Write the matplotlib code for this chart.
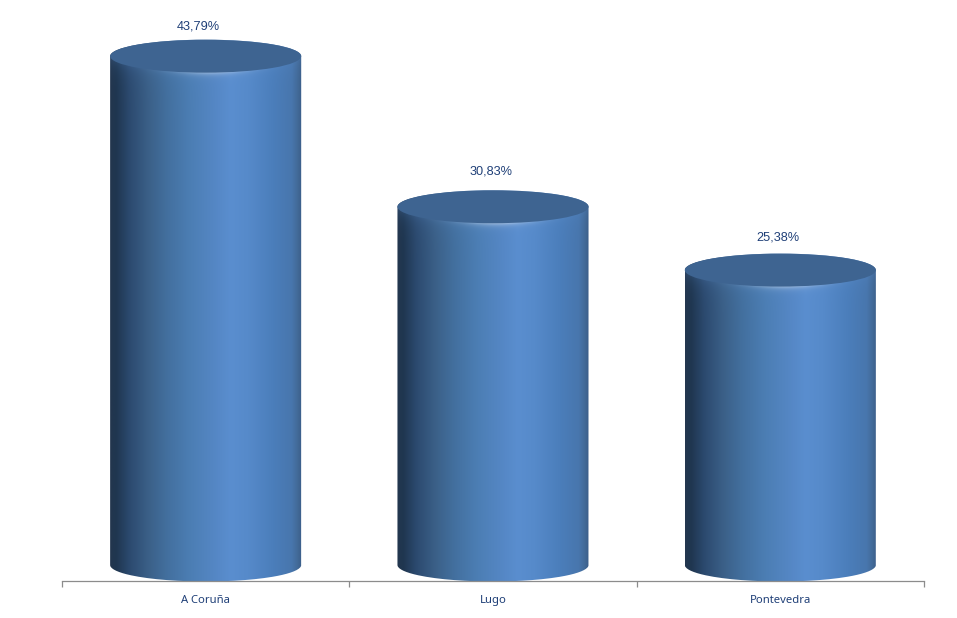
import numpy as np
import matplotlib
matplotlib.use("Agg")
import matplotlib.pyplot as plt
from matplotlib.colors import LinearSegmentedColormap
from matplotlib.patches import Ellipse
from matplotlib.path import Path

categories = ["A Coruña", "Lugo", "Pontevedra"]
values = [43.79, 30.83, 25.38]
value_labels = ["43,79%", "30,83%", "25,38%"]

W, H = 957, 618
bar_width = 0.665
px_per_unit = 11.62      # pixels per percentage point
cap_px = 16.5            # half height of the ellipses in pixels
cap = cap_px / px_per_unit
label_dx = [-7, -2, -2]  # the value labels are not quite centred, in pixels
label_dy = [0, 6, 3]

# side of the cylinder, left to right
body_cmap = LinearSegmentedColormap.from_list("body", [
    (0.0, "#23364e"), (0.03, "#1f3650"), (0.1, "#2c4a6f"), (0.2, "#3b6088"), (0.3, "#43709f"),
    (0.42, "#4c7eb4"), (0.55, "#5587c5"), (0.63, "#5a8ecf"), (0.72, "#568aca"),
    (0.85, "#4b7ebb"), (0.95, "#4876ad"), (0.985, "#416895"), (1.0, "#3c5f8a"),
])
top_color = "#3e6491"
text_blue = "#1f3f77"

fig = plt.figure(figsize=(W / 100, H / 100), dpi=100)
ax = fig.add_axes([62 / W, (H - 581) / H, (924 - 62) / W, 581 / H])


def cylinder_path(xc, a, top):
    # outline: left side, top half of the cap, right side, bottom half
    t = np.linspace(0, np.pi, 80)
    xs = np.concatenate([xc - a * np.cos(t), xc + a * np.cos(t)])
    ys = np.concatenate([top + cap * np.sin(t), -cap * np.sin(t)])
    return Path(np.column_stack([xs, ys]))


for i, v in enumerate(values):
    a = bar_width / 2
    extent = (i - a, i + a, -cap, v + cap)
    ny = int((v + 2 * cap) * px_per_unit) * 2
    u = np.linspace(0, 1, 400)
    yy = np.linspace(v + cap, -cap, ny)
    uu, yg = np.meshgrid(u, yy)
    rgb = body_cmap(uu)[..., :3]

    w = 2 * uu - 1
    edge = v - cap * np.sqrt(1 - w**2)
    d = np.clip((edge - yg) * px_per_unit, 0, None)
    # soft lighter bevel under the cap, all the way across
    bevel = np.exp(-d / 9.0) * 0.12
    rgb = rgb + (np.array([0.35, 0.55, 0.8]) - rgb) * bevel[..., None] * 1.6
    # thin bright line along the lower edge of the cap
    glow = np.exp(-d / 2.5) * np.exp(-((w - 0.06) / 0.38) ** 2) * 0.42
    rgb = rgb + (1 - rgb) * glow[..., None]

    im = ax.imshow(np.clip(rgb, 0, 1), extent=extent, aspect="auto", zorder=2, interpolation="bilinear")
    im.set_clip_path(cylinder_path(i, a, v), transform=ax.transData)

    ax.add_patch(Ellipse((i, v), bar_width, 2 * cap, facecolor=top_color, edgecolor="none", zorder=3))
    ax.annotate(value_labels[i], (i, v + cap), xytext=(label_dx[i] * 0.72, 9.5 + label_dy[i] * 0.72),
                textcoords="offset points", ha="center", va="center", fontsize=9.2,
                family="Liberation Sans", color=text_blue, annotation_clip=False)

ax.set_xlim(-0.5, 2.5)
ax.set_ylim(-16 / px_per_unit, 565 / px_per_unit)
for s in ["top", "left", "right"]:
    ax.spines[s].set_visible(False)
ax.spines["bottom"].set_color("#8c8c8c")
ax.spines["bottom"].set_linewidth(0.9)
ax.spines["bottom"].set_zorder(5)
ax.set_yticks([])
ax.set_xticks([-0.5, 0.5, 1.5, 2.5])
ax.set_xticklabels([])
ax.tick_params(axis="x", length=4, width=0.9, color="#8c8c8c")
ax.set_xticks(range(3), minor=True)
ax.set_xticklabels(categories, minor=True, fontsize=8.1, family="Noto Sans", color=text_blue)
ax.tick_params(axis="x", which="minor", length=0, pad=10)

fig.savefig("out.png", dpi=100, facecolor="white")
